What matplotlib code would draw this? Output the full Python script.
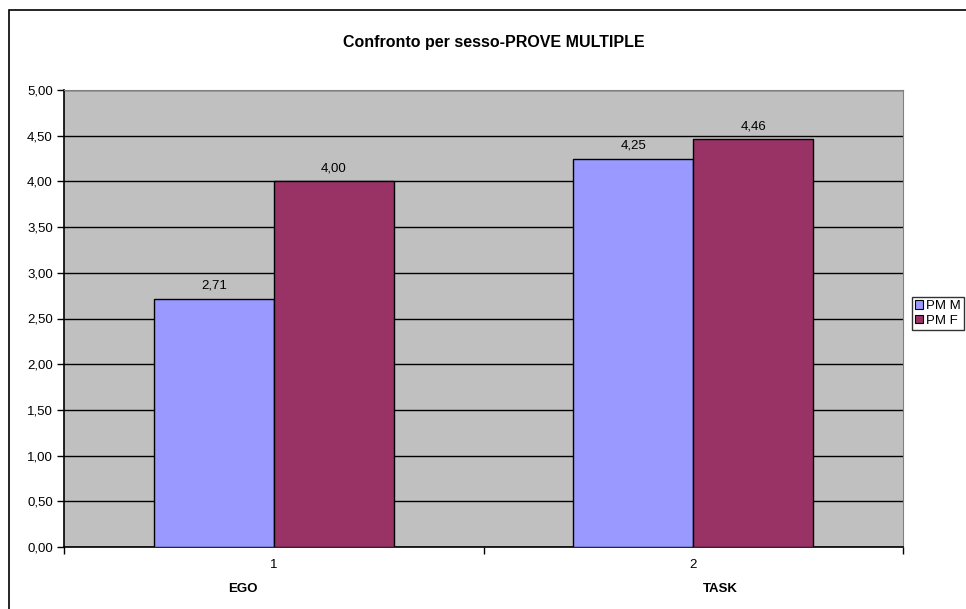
import matplotlib.pyplot as plt
import matplotlib.patches as mpatches
import numpy as np

plt.rcParams['font.family'] = ['Liberation Sans', 'DejaVu Sans']

categories = ['1', '2']
group_names = ['EGO', 'TASK']
series_names = ['PM M', 'PM F']
pm_m = [2.71, 4.25]
pm_f = [4.00, 4.46]
colors = ['#9999FF', '#993366']

W, H = 966, 609
fig = plt.figure(figsize=(W / 100, H / 100), dpi=100)

# outer chart frame (runs off right and bottom edges)
fig.patches.append(mpatches.Rectangle((9 / W, -0.1), 1.2, 1 - 10 / H + 0.1,
                                      transform=fig.transFigure, fill=False,
                                      edgecolor='black', lw=1.2))

ax = fig.add_axes([64 / W, 1 - 547 / H, (903 - 64) / W, (547 - 90) / H])
ax.set_facecolor('#C0C0C0')

fs = 9.5
x = np.arange(len(categories))
bw = 1 / 3.5
for vals, col, off in [(pm_m, colors[0], -0.5), (pm_f, colors[1], 0.5)]:
    bars = ax.bar(x + off * bw, vals, bw, color=col, edgecolor='black', lw=1, zorder=3)
    for b, v in zip(bars, vals):
        ax.text(b.get_x() + b.get_width() / 2, v + 0.08, f'{v:.2f}'.replace('.', ','),
                ha='center', va='bottom', fontsize=fs)

ax.set_xlim(-0.5, 1.5)
ax.set_ylim(0, 5)
yt = np.arange(0, 5.01, 0.5)
ax.set_yticks(yt)
ax.set_yticklabels([f'{v:.2f}'.replace('.', ',') for v in yt], fontsize=fs)
ax.yaxis.grid(True, color='black', lw=1, zorder=1)
ax.tick_params(axis='y', length=5, width=1, pad=3)

ax.set_xticks([-0.5, 0.5, 1.5])
ax.set_xticklabels([])
ax.set_xticks(x, minor=True)
ax.set_xticklabels(categories, minor=True, fontsize=fs)
ax.tick_params(axis='x', which='major', length=5, width=1, direction='out')
ax.tick_params(axis='x', which='minor', length=0, pad=9)

for s in ['top', 'right']:
    ax.spines[s].set_color('#808080')
for s in ['left', 'bottom']:
    ax.spines[s].set_color('black')
    ax.spines[s].set_linewidth(1.2)

fig.text(243 / W, 1 - 589 / H, group_names[0], ha='center', va='center',
         fontsize=fs, fontweight='bold')
fig.text(720 / W, 1 - 589 / H, group_names[1], ha='center', va='center',
         fontsize=fs, fontweight='bold')

fig.text(494 / W, 1 - 43 / H, 'Confronto per sesso-PROVE MULTIPLE', ha='center',
         va='center', fontsize=11.5, fontweight='bold')

handles = [mpatches.Patch(facecolor=c, edgecolor='black', lw=0.8) for c in colors]
fig.legend(handles, series_names, loc='upper left', bbox_to_anchor=(912 / W, 1 - 297 / H),
           fontsize=fs, frameon=True, fancybox=False, edgecolor='black',
           handlelength=0.6, handleheight=0.6, handletextpad=0.2, borderpad=0.25,
           labelspacing=0.2, borderaxespad=0)

fig.savefig('out.png', dpi=100)
